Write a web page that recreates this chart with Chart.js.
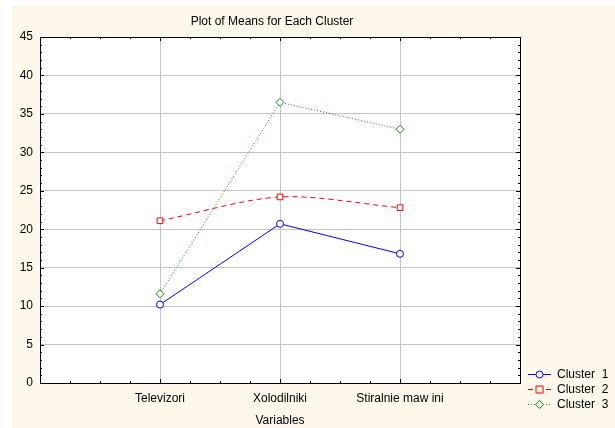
<!DOCTYPE html>
<html>
<head>
<meta charset="utf-8">
<script src="https://cdn.jsdelivr.net/npm/chart.js@4/dist/chart.umd.min.js"></script>
<style>
  html, body { margin: 0; padding: 0; background: #ffffff; }
  #wrap { width: 615px; height: 428px; position: relative; }
</style>
</head>
<body>
<div id="wrap"><canvas id="c" width="615" height="428"></canvas></div>
<script>
// ---- data ----
const categories = ["Televizori", "Xolodilniki", "Stiralnie maw ini"];
const seriesNames = ["Cluster  1", "Cluster  2", "Cluster  3"];
const cluster1 = [10.2, 20.7, 16.8];
const cluster2 = [21.1, 24.2, 22.8];
const cluster3 = [11.6, 36.5, 33.0];
const yTicks = [0, 5, 10, 15, 20, 25, 30, 35, 40, 45];
const chartTitle = 'Plot of Means for Each Cluster';
const xTitle = 'Variables';

const FONT = "'Liberation Sans', Arial, sans-serif";
const FS = 12;

function toPoints(arr) { return arr.map((v, i) => ({ x: i + 1, y: v })); }

const bgPlugin = {
  id: 'bg',
  beforeDraw(chart) {
    const ctx = chart.ctx, a = chart.chartArea;
    ctx.save();
    ctx.fillStyle = '#ffffff';
    ctx.fillRect(0, 0, chart.width, chart.height);
    ctx.fillStyle = '#fdf8eb';
    ctx.fillRect(12, 5, chart.width - 12, chart.height - 5);
    ctx.fillStyle = '#ffffff';
    ctx.fillRect(a.left, a.top, a.right - a.left, a.bottom - a.top);
    ctx.restore();
  }
};

const frameTicksPlugin = {
  id: 'frameTicks',
  afterDatasetsDraw(chart) {
    const ctx = chart.ctx, a = chart.chartArea;
    const xs = chart.scales.x, ys = chart.scales.y;
    ctx.save();
    ctx.strokeStyle = '#000';
    ctx.lineWidth = 1;
    ctx.beginPath();
    for (let v = 1; v < 45; v++) {
      const y = Math.round(ys.getPixelForValue(v)) + 0.5;
      const len = (v % 5 === 0) ? 4 : 2;
      ctx.moveTo(a.left, y); ctx.lineTo(a.left + len, y);
      ctx.moveTo(a.right, y); ctx.lineTo(a.right - len, y);
    }
    for (let q = 1; q < 16; q++) {
      const v = q / 4;
      const x = Math.round(xs.getPixelForValue(v)) + 0.5;
      const len = (q % 4 === 0) ? 4 : 2;
      ctx.moveTo(x, a.bottom); ctx.lineTo(x, a.bottom - len);
      ctx.moveTo(x, a.top); ctx.lineTo(x, a.top + len);
    }
    ctx.stroke();
    ctx.strokeRect(Math.round(a.left) + 0.5, Math.round(a.top) + 0.5,
                   Math.round(a.right - a.left), Math.round(a.bottom - a.top));
    ctx.restore();
  }
};

const textPlugin = {
  id: 'texts',
  afterDraw(chart) {
    const ctx = chart.ctx;
    ctx.save();
    ctx.font = FS + 'px ' + FONT;
    ctx.fillStyle = '#000';
    ctx.textBaseline = 'middle';
    ctx.textAlign = 'center';
    ctx.fillText(chartTitle, 272, 22);
    // legend
    const rowY = [374, 389, 404];
    ctx.textAlign = 'left';
    chart.data.datasets.forEach((ds, i) => {
      const y = rowY[i] + 0.5;
      ctx.strokeStyle = ds.borderColor;
      ctx.lineWidth = 1;
      ctx.setLineDash(ds.borderDash || []);
      ctx.beginPath(); ctx.moveTo(528, y); ctx.lineTo(551, y); ctx.stroke();
      ctx.setLineDash([]);
      ctx.fillStyle = '#fdf8eb';
      ctx.beginPath();
      const cx = 539.5;
      if (ds.pointStyle === 'circle') {
        ctx.arc(cx, y, 3.5, 0, Math.PI * 2);
      } else if (ds.pointStyle === 'rect') {
        ctx.rect(cx - 3.5, y - 3.5, 7, 7);
      } else {
        ctx.moveTo(cx, y - 4); ctx.lineTo(cx + 4, y); ctx.lineTo(cx, y + 4); ctx.lineTo(cx - 4, y); ctx.closePath();
      }
      ctx.fill(); ctx.stroke();
      ctx.fillStyle = '#000';
      ctx.fillText(ds.label, 557, rowY[i] + 1);
    });
    ctx.restore();
  }
};

new Chart(document.getElementById('c'), {
  type: 'line',
  data: {
    datasets: [
      { label: seriesNames[0], data: toPoints(cluster1), borderColor: '#0000ff', borderWidth: 1,
        pointStyle: 'circle', pointRadius: 3.5, pointBackgroundColor: '#ffffff', pointBorderColor: '#0000ff', pointBorderWidth: 1, tension: 0 },
      { label: seriesNames[1], data: toPoints(cluster2), borderColor: '#ff0000', borderWidth: 1, borderDash: [5, 4],
        pointStyle: 'rect', pointRadius: 4, pointBackgroundColor: '#ffffff', pointBorderColor: '#ff0000', pointBorderWidth: 1, tension: 0.3 },
      { label: seriesNames[2], data: toPoints(cluster3), borderColor: '#118811', borderWidth: 1, borderDash: [1, 2],
        pointStyle: 'rectRot', pointRadius: 4, pointBackgroundColor: '#ffffff', pointBorderColor: '#118811', pointBorderWidth: 1, tension: 0 }
    ]
  },
  options: {
    responsive: false,
    animation: false,
    events: [],
    layout: { padding: { left: 0, right: 95, top: 37, bottom: 0 } },
    plugins: {
      legend: { display: false },
      tooltip: { enabled: false },
      title: { display: false }
    },
    scales: {
      x: {
        type: 'linear', min: 0, max: 4,
        afterFit(s) { s.height = 45; },
        afterBuildTicks(s) { s.ticks = [0, 1, 2, 3, 4].map(v => ({ value: v })); },
        ticks: {
          autoSkip: false, maxRotation: 0, color: '#000', padding: 8,
          font: { family: FONT, size: FS },
          callback: (v) => categories[v - 1] || ''
        },
        grid: {
          color: (c) => (c.tick && c.tick.value >= 1 && c.tick.value <= 3) ? '#c4c4c4' : 'rgba(0,0,0,0)',
          drawTicks: false, lineWidth: 1
        },
        border: { display: false },
        title: { display: true, text: xTitle, color: '#000', font: { family: FONT, size: FS }, padding: { top: 0, bottom: 0 } }
      },
      y: {
        type: 'linear', min: 0, max: 45,
        afterFit(s) { s.width = 40; },
        afterBuildTicks(s) { s.ticks = yTicks.map(v => ({ value: v })); },
        ticks: { color: '#000', padding: 7, font: { family: FONT, size: FS } },
        grid: {
          color: (c) => (c.tick && c.tick.value > 0 && c.tick.value < 45) ? '#c4c4c4' : 'rgba(0,0,0,0)',
          drawTicks: false, lineWidth: 1
        },
        border: { display: false }
      }
    }
  },
  plugins: [bgPlugin, frameTicksPlugin, textPlugin]
});
</script>
</body>
</html>
